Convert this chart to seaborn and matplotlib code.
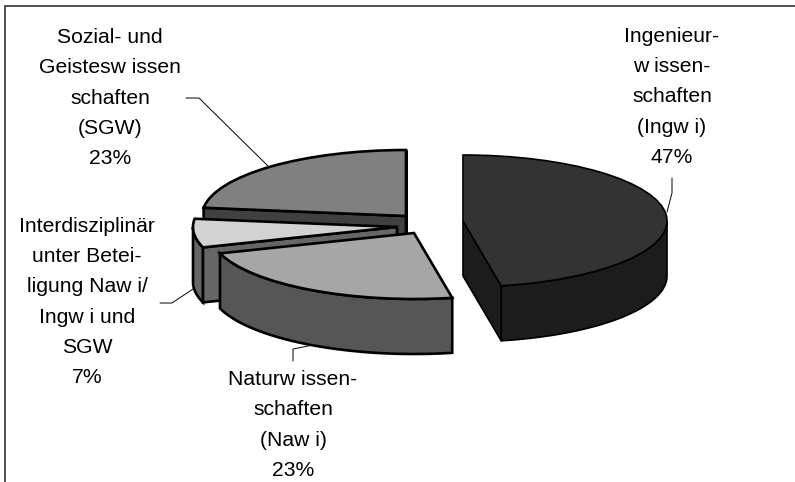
import numpy as np
import matplotlib
matplotlib.use("Agg")
import matplotlib.pyplot as plt
import seaborn as sns
from matplotlib.patches import Polygon, Rectangle

# daten
categories = [
    "Ingenieur-\nw issen-\nschaften\n(Ingw i)",
    "Naturw issen-\nschaften\n(Naw i)",
    "Interdisziplinär\nunter Betei-\nligung Naw i/\nIngw i und\nSGW",
    "Sozial- und\nGeistesw issen\nschaften\n(SGW)",
]
shares = [47, 23, 7, 23]

# farben: oberseite / seite
top_colors = ["#333333", "#a6a6a6", "#d2d2d2", "#808080"]
side_colors = ["#1c1c1c", "#565656", "#666666", "#404040"]
edge_widths = [1.2, 1.9, 1.9, 1.9]

# layout in pixeln des bildes
W, H = 795, 482
RX, RY = 204, 66
DEPTH = 55
apex = [(463, 221), (414, 233), (397, 227), (406, 216)]
label_pos = [(672, 97), (293, 425), (87, 302), (110, 98)]
leaders = [
    [(672, 178), (672, 193), (667, 212)],
    [(293, 361), (293, 349), (313, 345)],
    [(160, 303), (172, 303), (193, 289)],
    [(186, 98), (199, 98), (268, 166)],
]


def to_data(x, y):
    # pixel (y nach unten) -> einheiten des kreises
    return x / RX, (H - y) / RY


sns.set_theme(style="white")
plt.rcParams["font.family"] = ["Liberation Sans", "DejaVu Sans"]

fig = plt.figure(figsize=(W / 100, H / 100), dpi=100)
ax = fig.add_axes([0, 0, 1, 1])

wedges, _ = ax.pie(shares, startangle=90, counterclock=False, radius=1,
                   colors=top_colors, wedgeprops={"edgecolor": "black"})
ax.set_aspect("auto")
ax.set_xlim(0, W / RX)
ax.set_ylim(0, H / RY)
ax.axis("off")

dz = DEPTH / RY

# von hinten nach vorne zeichnen
for i in [3, 2, 1, 0]:
    w = wedges[i]
    lw = edge_widths[i]
    c = np.array(to_data(*apex[i]))
    w.set_center(tuple(c))
    w.set_linewidth(lw)
    w.set_zorder(3 * (4 - i) + 2)
    z = 3 * (4 - i)
    t1, t2 = w.theta1, w.theta2

    # aussenseite, nur vorderer teil
    t = np.radians(np.linspace(t1, t2, 200))
    t = t[np.sin(t) <= 0]
    if len(t) > 1:
        upper = np.c_[c[0] + np.cos(t), c[1] + np.sin(t)]
        lower = upper[::-1] - [0, dz]
        ax.add_patch(Polygon(np.r_[upper, lower], closed=True, fc=side_colors[i],
                             ec="black", lw=lw, zorder=z))

    # schnittflaechen, falls sichtbar
    for ang, visible in [(t1, np.cos(np.radians(t1)) > 0), (t2, np.cos(np.radians(t2)) < 0)]:
        if visible:
            p = c + [np.cos(np.radians(ang)), np.sin(np.radians(ang))]
            ax.add_patch(Polygon([c, p, p - [0, dz], c - [0, dz]], closed=True,
                                 fc=side_colors[i], ec="black", lw=lw, zorder=z + 1))

    # beschriftung
    lx, ly = to_data(*label_pos[i])
    ax.text(lx, ly, f"{categories[i]}\n{shares[i]}%", ha="center", va="center",
            fontsize=15.2, color="black", linespacing=1.75, zorder=30)

    pts = [to_data(*q) for q in leaders[i]]
    ax.plot([q[0] for q in pts], [q[1] for q in pts], color="black", lw=0.7, zorder=1)

# rahmen, rechts und unten ausserhalb des bildes
x0, y0 = to_data(5, 6)
x1, y1 = to_data(810, 500)
ax.add_patch(Rectangle((x0, y1), x1 - x0, y0 - y1, fill=False, ec="#333333", lw=1.2, zorder=0))

fig.savefig("out.png", dpi=100)
